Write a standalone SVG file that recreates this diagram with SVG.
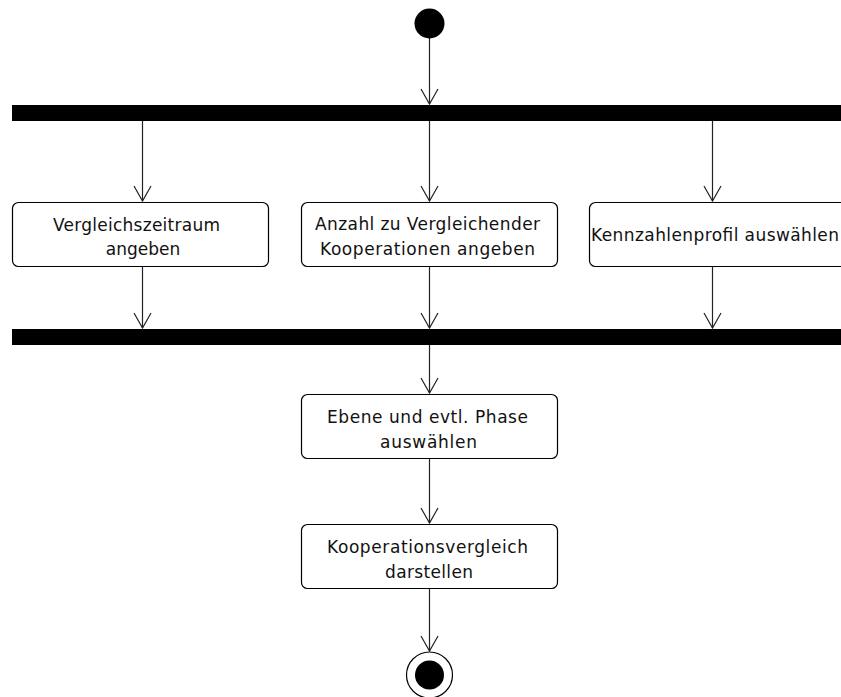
<svg xmlns="http://www.w3.org/2000/svg" width="841" height="697" viewBox="0 0 841 697">
  <defs>
    <!-- open V arrowhead, drawn along +x so orient="auto" points it down each flow -->
    <marker id="open" markerWidth="20" markerHeight="20" refX="16" refY="10" orient="auto" markerUnits="userSpaceOnUse" viewBox="0 0 20 20">
      <path d="M1,1.5 L16,10 L1,18.5" fill="none" stroke="#222" stroke-width="1.2"/>
    </marker>
  </defs>
  <style>
    .act { fill: #fff; stroke: #000; stroke-width: 1.2; }
    .bar { fill: #000; }
    .lbl { font-family: "DejaVu Sans", "Liberation Sans", sans-serif; font-size: 17px; fill: #111; text-anchor: middle; }
    .flow { fill: none; stroke: #222; stroke-width: 1.2; marker-end: url(#open); }
  </style>
  <rect width="841" height="697" fill="#fff"/>

  <g id="connectors">
    <line class="flow" x1="429.5" y1="38" x2="429.5" y2="104"/>
    <line class="flow" x1="142.5" y1="121" x2="142.5" y2="201"/>
    <line class="flow" x1="429.5" y1="121" x2="429.5" y2="201"/>
    <line class="flow" x1="712.5" y1="121" x2="712.5" y2="201"/>
    <line class="flow" x1="142.5" y1="267" x2="142.5" y2="328"/>
    <line class="flow" x1="429.5" y1="267" x2="429.5" y2="328"/>
    <line class="flow" x1="712.5" y1="267" x2="712.5" y2="328"/>
    <line class="flow" x1="429.5" y1="345" x2="429.5" y2="393"/>
    <line class="flow" x1="429.5" y1="458" x2="429.5" y2="523"/>
    <line class="flow" x1="429.5" y1="588" x2="429.5" y2="651"/>
  </g>

  <g id="start">
    <circle cx="429.5" cy="23.5" r="15" fill="#000"/>
  </g>

  <g id="fork">
    <rect class="bar" x="12" y="105" width="850" height="16"/>
  </g>

  <g id="vergleichszeitraum">
    <rect class="act" x="12.5" y="202.5" width="256" height="64" rx="6"/>
    <text class="lbl" x="136.5" y="231" textLength="167" lengthAdjust="spacing">Vergleichszeitraum</text>
    <text class="lbl" x="143" y="255">angeben</text>
  </g>

  <g id="anzahl">
    <rect class="act" x="301.5" y="202.5" width="256" height="64" rx="6"/>
    <text class="lbl" x="427.5" y="230" textLength="225" lengthAdjust="spacing">Anzahl zu Vergleichender</text>
    <text class="lbl" x="427.5" y="255" textLength="215" lengthAdjust="spacing">Kooperationen angeben</text>
  </g>

  <g id="kennzahlenprofil">
    <rect class="act" x="589.5" y="202.5" width="280" height="64" rx="6"/>
    <text class="lbl" x="591" y="241" style="text-anchor:start" textLength="248" lengthAdjust="spacing">Kennzahlenprofil auswählen</text>
  </g>

  <g id="join">
    <rect class="bar" x="12" y="329" width="850" height="16"/>
  </g>

  <g id="ebene">
    <rect class="act" x="301.5" y="394.5" width="256" height="64" rx="6"/>
    <text class="lbl" x="427.5" y="423" textLength="201" lengthAdjust="spacing">Ebene und evtl. Phase</text>
    <text class="lbl" x="428.5" y="448" textLength="97" lengthAdjust="spacing">auswählen</text>
  </g>

  <g id="darstellen">
    <rect class="act" x="301.5" y="524.5" width="256" height="64" rx="6"/>
    <text class="lbl" x="427.5" y="553" textLength="201" lengthAdjust="spacing">Kooperationsvergleich</text>
    <text class="lbl" x="429" y="578" textLength="88" lengthAdjust="spacing">darstellen</text>
  </g>

  <g id="end">
    <circle cx="429.5" cy="675" r="23" fill="#fff" stroke="#000" stroke-width="1.2"/>
    <circle cx="429.5" cy="675" r="14.5" fill="#000"/>
  </g>
</svg>
